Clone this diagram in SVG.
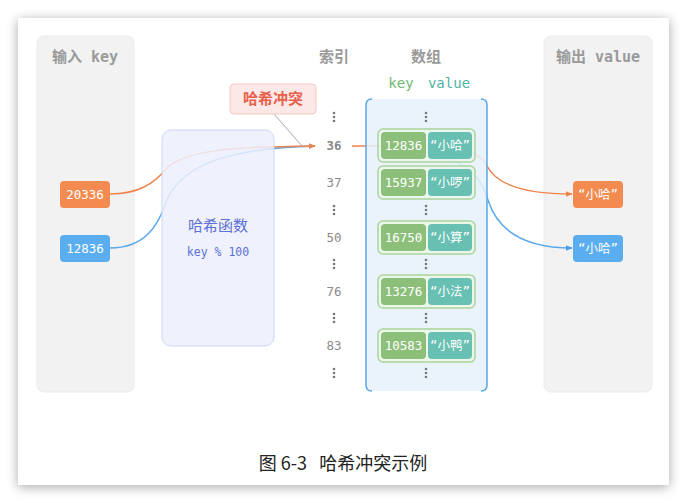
<svg xmlns="http://www.w3.org/2000/svg" width="687" height="503" viewBox="0 0 687 503">
<defs>
<filter id="sh" x="-10%" y="-10%" width="120%" height="120%">
<feGaussianBlur in="SourceAlpha" stdDeviation="6"/>
<feOffset dx="0" dy="2"/>
<feComponentTransfer><feFuncA type="linear" slope="0.35"/></feComponentTransfer>
<feMerge><feMergeNode/><feMergeNode in="SourceGraphic"/></feMerge>
</filter>
<marker id="ao" viewBox="0 0 10 10" refX="9" refY="5" markerWidth="7" markerHeight="7" orient="auto" markerUnits="userSpaceOnUse"><path d="M0,1 L10,5 L0,9 Z" fill="#f0834a"/></marker>
<marker id="ab" viewBox="0 0 10 10" refX="9" refY="5" markerWidth="7" markerHeight="7" orient="auto" markerUnits="userSpaceOnUse"><path d="M0,1 L10,5 L0,9 Z" fill="#4d9ee8"/></marker>
</defs>
<style>
.panel{fill:#f2f2f2;stroke:#ebebeb;stroke-width:1}
.ptitle{font-family:"DejaVu Sans Mono","Noto Sans CJK SC",monospace;font-weight:bold;font-size:15px;fill:#9a9a9a;text-anchor:middle}
.mono{font-family:"DejaVu Sans Mono","Liberation Mono",monospace}
.nodetxt{font-family:"DejaVu Sans Mono","Noto Sans CJK SC",monospace;font-size:12.5px;fill:#fff;text-anchor:middle;dominant-baseline:central}
.idx{font-family:"DejaVu Sans Mono",monospace;font-size:12.5px;fill:#8a8a8a;text-anchor:middle;dominant-baseline:central}
.dots{fill:#777}
.frame{fill:#edf6ea;stroke:#a9d59b;stroke-width:1.5}
.kc{fill:#8cc07a}
.vc{fill:#68c0b2}
</style>
<rect x="18" y="18" width="651" height="467" fill="#fff" filter="url(#sh)"/>

<g id="input-panel">
<rect class="panel" x="37" y="36" width="97" height="356" rx="7"/>
<text class="ptitle" x="85" y="62">输入 key</text>
</g>
<g id="output-panel">
<rect class="panel" x="544" y="36" width="108" height="356" rx="7"/>
<text class="ptitle" x="598" y="62">输出 value</text>
</g>

<g id="headers">
<text class="ptitle" x="334" y="62">索引</text>
<text class="ptitle" x="426" y="62">数组</text>
<text class="mono" x="401" y="88" font-size="14" fill="#6fb870" text-anchor="middle">key</text>
<text class="mono" x="449" y="88" font-size="14" fill="#4fb3a3" text-anchor="middle">value</text>
</g>

<g id="connectors" fill="none" stroke-width="1.5">
<path d="M110,248 C145,248 158,225 165,205 C180,160 240,148 315,146" stroke="#5aa8ec" marker-end="url(#ab)"/>
<path d="M110,194 C140,194 155,182 165,170 C185,148 240,147 315,146" stroke="#f0834a" marker-end="url(#ao)"/>
<path d="M274,114 L302,146" stroke="#aaa" stroke-width="1"/>
<path d="M352,146 L430,146 C470,148 482,155 487,166 C495,182 520,194 572,194" stroke="#f0834a" marker-end="url(#ao)"/>
<path d="M440,158 C470,162 482,180 488,200 C498,232 525,248 572,248" stroke="#5aa8ec" marker-end="url(#ab)"/>
</g>

<g id="hash-function">
<rect x="162" y="130" width="112" height="216" rx="9" fill="#eceffb" fill-opacity="0.85" stroke="#cbd6f6" stroke-width="1"/>
<text x="218" y="231" font-family="Noto Sans CJK SC,sans-serif" font-size="15" fill="#5b6fd6" text-anchor="middle">哈希函数</text>
<text class="mono" x="218" y="256" font-size="11.5" fill="#5b6fd6" text-anchor="middle">key % 100</text>
</g>

<g id="collision-label">
<rect x="230" y="84" width="86" height="30" rx="4" fill="#fce8e6" stroke="#f6c9c3" stroke-width="1"/>
<text x="273" y="104" font-family="Noto Sans CJK SC,sans-serif" font-weight="bold" font-size="15" fill="#e8604c" text-anchor="middle">哈希冲突</text>
</g>

<g id="key-20336">
<rect x="60" y="181" width="50" height="27" rx="4" fill="#f38b50"/>
<text class="nodetxt" x="85" y="194.5">20336</text>
</g>
<g id="key-12836">
<rect x="60" y="235" width="50" height="27" rx="4" fill="#5aaef0"/>
<text class="nodetxt" x="85" y="248.5">12836</text>
</g>

<g id="index-column">
<g class="dots"><circle cx="334" cy="113" r="1.3"/><circle cx="334" cy="117" r="1.3"/><circle cx="334" cy="121" r="1.3"/></g>
<text class="idx" x="334" y="145" font-weight="bold" fill="#666">36</text>
<text class="idx" x="334" y="182">37</text>
<g class="dots"><circle cx="334" cy="206" r="1.3"/><circle cx="334" cy="210" r="1.3"/><circle cx="334" cy="214" r="1.3"/></g>
<text class="idx" x="334" y="237">50</text>
<g class="dots"><circle cx="334" cy="260" r="1.3"/><circle cx="334" cy="264" r="1.3"/><circle cx="334" cy="268" r="1.3"/></g>
<text class="idx" x="334" y="291">76</text>
<g class="dots"><circle cx="334" cy="314" r="1.3"/><circle cx="334" cy="318" r="1.3"/><circle cx="334" cy="322" r="1.3"/></g>
<text class="idx" x="334" y="345">83</text>
<g class="dots"><circle cx="334" cy="369" r="1.3"/><circle cx="334" cy="373" r="1.3"/><circle cx="334" cy="377" r="1.3"/></g>
</g>

<g id="array">
<rect x="366" y="99" width="121" height="292" rx="6" fill="#e6f1fc" fill-opacity="0.85"/>
<path d="M372,99 Q366,99 366,105 L366,385 Q366,391 372,391" fill="none" stroke="#5aa6e8" stroke-width="1.5"/>
<path d="M481,99 Q487,99 487,105 L487,385 Q487,391 481,391" fill="none" stroke="#5aa6e8" stroke-width="1.5"/>
<g class="dots"><circle cx="426" cy="113" r="1.3"/><circle cx="426" cy="117" r="1.3"/><circle cx="426" cy="121" r="1.3"/></g>
<g class="dots"><circle cx="426" cy="206" r="1.3"/><circle cx="426" cy="210" r="1.3"/><circle cx="426" cy="214" r="1.3"/></g>
<g class="dots"><circle cx="426" cy="260" r="1.3"/><circle cx="426" cy="264" r="1.3"/><circle cx="426" cy="268" r="1.3"/></g>
<g class="dots"><circle cx="426" cy="314" r="1.3"/><circle cx="426" cy="318" r="1.3"/><circle cx="426" cy="322" r="1.3"/></g>
<g class="dots"><circle cx="426" cy="369" r="1.3"/><circle cx="426" cy="373" r="1.3"/><circle cx="426" cy="377" r="1.3"/></g>
</g>

<g id="entry-36">
<rect class="frame" x="378" y="129" width="97" height="33" rx="5" fill-opacity="0.6"/>
<rect class="kc" x="381" y="132" width="45" height="27" rx="4"/>
<rect class="vc" x="428" y="132" width="44" height="27" rx="4"/>
<text class="nodetxt" x="403.5" y="145.5">12836</text>
<text class="nodetxt" x="450" y="145.5">“小哈”</text>
</g>
<g id="entry-37">
<rect class="frame" x="378" y="166" width="97" height="33" rx="5" fill-opacity="0.6"/>
<rect class="kc" x="381" y="169" width="45" height="27" rx="4"/>
<rect class="vc" x="428" y="169" width="44" height="27" rx="4"/>
<text class="nodetxt" x="403.5" y="182.5">15937</text>
<text class="nodetxt" x="450" y="182.5">“小啰”</text>
</g>
<g id="entry-50">
<rect class="frame" x="378" y="221" width="97" height="33" rx="5"/>
<rect class="kc" x="381" y="224" width="45" height="27" rx="4"/>
<rect class="vc" x="428" y="224" width="44" height="27" rx="4"/>
<text class="nodetxt" x="403.5" y="237.5">16750</text>
<text class="nodetxt" x="450" y="237.5">“小算”</text>
</g>
<g id="entry-76">
<rect class="frame" x="378" y="275" width="97" height="33" rx="5"/>
<rect class="kc" x="381" y="278" width="45" height="27" rx="4"/>
<rect class="vc" x="428" y="278" width="44" height="27" rx="4"/>
<text class="nodetxt" x="403.5" y="291.5">13276</text>
<text class="nodetxt" x="450" y="291.5">“小法”</text>
</g>
<g id="entry-83">
<rect class="frame" x="378" y="329" width="97" height="33" rx="5"/>
<rect class="kc" x="381" y="332" width="45" height="27" rx="4"/>
<rect class="vc" x="428" y="332" width="44" height="27" rx="4"/>
<text class="nodetxt" x="403.5" y="345.5">10583</text>
<text class="nodetxt" x="450" y="345.5">“小鸭”</text>
</g>

<g id="out-orange">
<rect x="573" y="181" width="50" height="27" rx="4" fill="#f38b50"/>
<text class="nodetxt" x="598" y="194.5">“小哈”</text>
</g>
<g id="out-blue">
<rect x="573" y="235" width="50" height="27" rx="4" fill="#5aaef0"/>
<text class="nodetxt" x="598" y="248.5">“小哈”</text>
</g>

<text x="343" y="470" font-family="Noto Sans CJK SC,sans-serif" font-size="18" fill="#222" text-anchor="middle" xml:space="preserve">图 6-3   哈希冲突示例</text>
</svg>
